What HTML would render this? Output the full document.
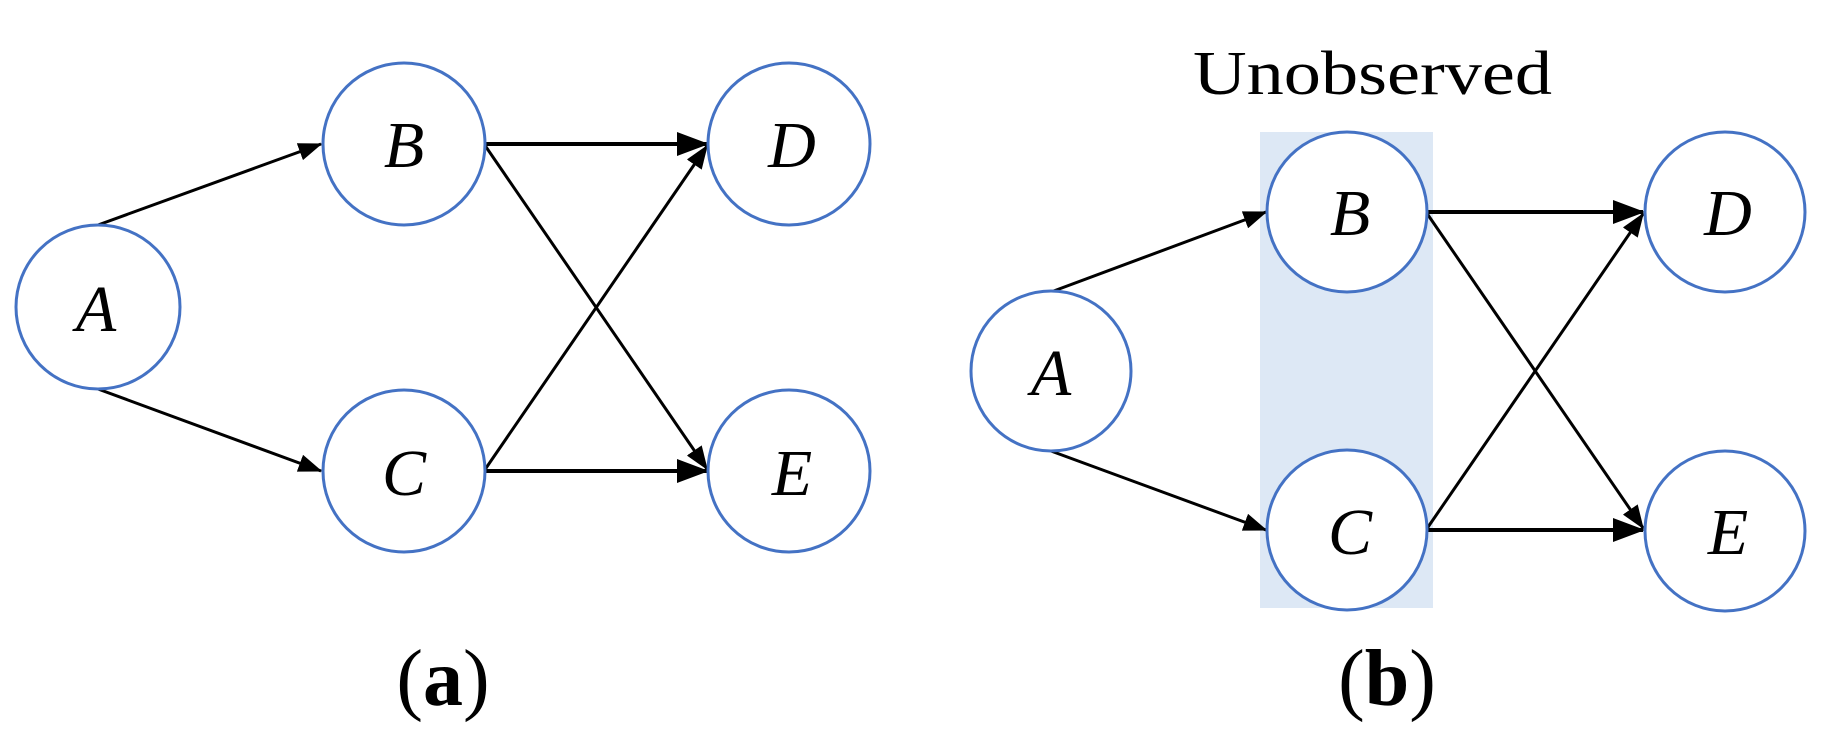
<!DOCTYPE html>
<html><head><meta charset="utf-8"><style>
html,body{margin:0;padding:0;background:#fff;}
svg{display:block;}
</style></head><body>
<svg width="1830" height="736" viewBox="0 0 1830 736" xmlns="http://www.w3.org/2000/svg">
<defs>
<marker id="ah" markerWidth="8" markerHeight="6" refX="7.5" refY="3" orient="auto" markerUnits="strokeWidth">
<path d="M0,0 L8,3 L0,6 z" fill="#000"/>
</marker>
</defs>
<rect x="1260" y="132" width="173" height="476" fill="#dde8f5"/>
<g stroke="#000" stroke-width="3" fill="none">
<line x1="98" y1="225" x2="321" y2="144" marker-end="url(#ah)"/>
<line x1="98" y1="389" x2="321" y2="471" marker-end="url(#ah)"/>
<line x1="484" y1="144" x2="707" y2="144" stroke-width="4" marker-end="url(#ah)"/>
<line x1="484" y1="144" x2="707" y2="469" marker-end="url(#ah)"/>
<line x1="484" y1="471" x2="707" y2="146" marker-end="url(#ah)"/>
<line x1="484" y1="471" x2="707" y2="471" stroke-width="4" marker-end="url(#ah)"/>
<line x1="1051" y1="292" x2="1266" y2="212" marker-end="url(#ah)"/>
<line x1="1051" y1="451" x2="1266" y2="530" marker-end="url(#ah)"/>
<line x1="1426" y1="212" x2="1643" y2="212" stroke-width="4" marker-end="url(#ah)"/>
<line x1="1426" y1="212" x2="1643" y2="528" marker-end="url(#ah)"/>
<line x1="1426" y1="530" x2="1643" y2="214" marker-end="url(#ah)"/>
<line x1="1426" y1="530" x2="1643" y2="530" stroke-width="4" marker-end="url(#ah)"/>
</g>
<g stroke="#4472c4" stroke-width="3" fill="#fff">
<circle cx="98" cy="307" r="82"/>
<circle cx="404" cy="144" r="81"/>
<circle cx="404" cy="471" r="81"/>
<circle cx="789" cy="144" r="81"/>
<circle cx="789" cy="471" r="81"/>
<circle cx="1051" cy="371" r="80"/>
<circle cx="1347" cy="212" r="80"/>
<circle cx="1347" cy="530" r="80"/>
<circle cx="1725" cy="212" r="80"/>
<circle cx="1725" cy="531" r="80"/>
</g>
<g font-family="'Liberation Serif', serif" font-style="italic" font-size="66" fill="#000" text-anchor="middle">
<text x="96" y="331">A</text>
<text x="404" y="167">B</text>
<text x="404" y="495">C</text>
<text x="792" y="167">D</text>
<text x="792" y="495">E</text>
<text x="1051" y="395">A</text>
<text x="1350" y="235">B</text>
<text x="1350" y="554">C</text>
<text x="1728" y="235">D</text>
<text x="1728" y="554">E</text>
</g>
<text x="1193" y="94" font-family="'Liberation Serif', serif" font-size="62" fill="#000" textLength="359" lengthAdjust="spacingAndGlyphs">Unobserved</text>
<g font-family="'Liberation Serif', serif" font-size="80" fill="#000" text-anchor="middle">
<text x="443" y="705">(<tspan font-weight="bold">a</tspan>)</text>
<text x="1387" y="705">(<tspan font-weight="bold">b</tspan>)</text>
</g>
</svg>
</body></html>
